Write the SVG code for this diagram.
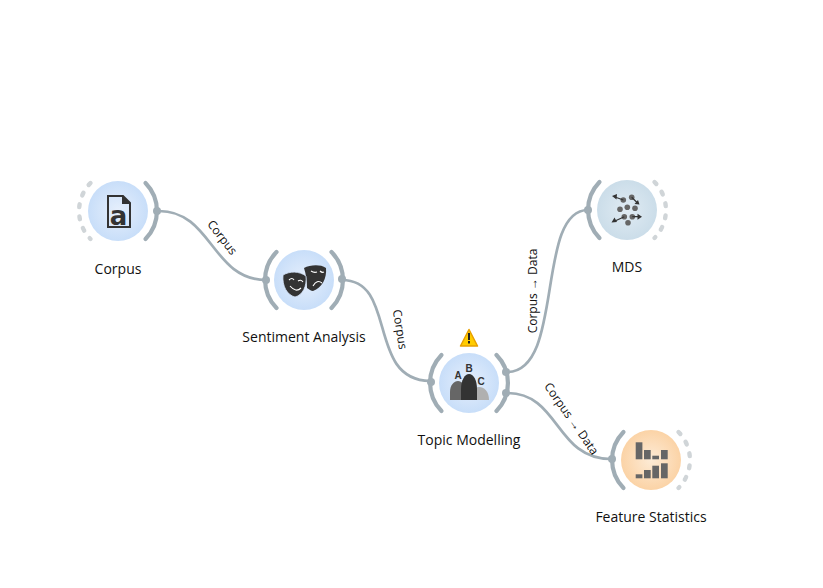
<svg xmlns="http://www.w3.org/2000/svg" width="823" height="588" viewBox="0 0 823 588">
<style>
.bg{fill:#fff}
.arc{fill:none;stroke:#a0adb5;stroke-width:4.2;stroke-linecap:round}
.dash{fill:none;stroke:#d0d5d8;stroke-width:4.4;stroke-linecap:round;stroke-dasharray:2.8 9.34}
.dot{fill:#a0adb5}
.link{fill:none;stroke:#a0adb5;stroke-width:2.7}
text{font-family:"Open Sans","Noto Sans","Liberation Sans",sans-serif;fill:#111}
.t{font-size:14px;text-anchor:middle}
.l{font-size:12px;text-anchor:middle}
.k{fill:#333}
.g{fill:#666}
.abc{font-family:"Liberation Sans",sans-serif;font-size:10px;font-weight:700;text-anchor:middle;fill:#333}
</style>
<defs>
<radialGradient id="blue"><stop offset="0" stop-color="#e6effc"/><stop offset="1" stop-color="#c8def9"/></radialGradient>
<radialGradient id="teal"><stop offset="0" stop-color="#e0ebf3"/><stop offset="1" stop-color="#cbdde9"/></radialGradient>
<radialGradient id="orange"><stop offset="0" stop-color="#fdebd6"/><stop offset="1" stop-color="#fbd3a6"/></radialGradient>
<path id="ra" class="arc" d="M27.5 -28A40 40 0 0 1 27.5 28"/>
<path id="la" class="arc" d="M-27.5 -28A40 40 0 0 0 -27.5 28"/>
<path id="rd" class="dash" d="M27.5 -28A40 40 0 0 1 27.5 28"/>
<path id="ld" class="dash" d="M-27.5 -28A40 40 0 0 0 -27.5 28"/>
</defs>
<rect class="bg" width="823" height="588"/>
<g id="connectors">
<path class="link" d="M159 211C212 211 212 280 266 280"/>
<path class="link" d="M342 280C398 280 366 380 430 381"/>
<path class="link" d="M507 372C565 372 535 210 588 210"/>
<path class="link" d="M507 393C560 393 555 459 611 459"/>
<circle class="dot" cx="157" cy="211" r="4"/>
<circle class="dot" cx="266" cy="280" r="4"/>
<circle class="dot" cx="342" cy="279" r="4"/>
<circle class="dot" cx="431" cy="382" r="4"/>
<circle class="dot" cx="506" cy="372" r="4"/>
<circle class="dot" cx="506" cy="393" r="4"/>
<circle class="dot" cx="588" cy="210" r="4"/>
<circle class="dot" cx="612" cy="459" r="4"/>
<text class="l" transform="translate(219,240) rotate(52)">Corpus</text>
<text class="l" transform="translate(396,330) rotate(81)">Corpus</text>
<text class="l" transform="translate(537,291) rotate(-90)">Corpus → Data</text>
<text class="l" transform="translate(568,421) rotate(55)">Corpus → Data</text>
</g>
<g id="corpus" transform="translate(118,211)">
<use href="#ld"/><use href="#ra"/>
<circle r="30" fill="url(#blue)"/>
<path fill="none" stroke="#333" stroke-width="2" d="M-10 -15H5L12 -8V16H-10Z"/>
<path class="k" d="M4 -16L13 -7H4Z"/>
<text y="13.500" x="0.500" text-anchor="middle" font-size="26" font-weight="700" style="font-family:'DejaVu Sans',sans-serif;fill:#333">a</text>
<text class="t" y="63">Corpus</text>
</g>
<g id="sentiment" transform="translate(304,280)">
<use href="#la"/><use href="#ra"/>
<circle r="30" fill="url(#blue)"/>
<path class="k" d="M0 -12C6 -15 16 -16 22 -12C23 -2 18 8 9 11C7 11 5 9 3 8C3 2 2 -6 0 -12Z"/>
<path class="k" stroke="#d5e5fa" stroke-width="0.8" d="M-21 -5C-14 -9 -5 -9 2 -4C3 6 -1 15 -9 17C-17 15 -22 6 -21 -5Z"/>
<path fill="none" stroke="#fff" stroke-width="1.1" d="M-15 0Q-12 -3 -10 0M-6 1Q-3 -1 -1 2M-14 6Q-8 13 -3 8M7 -9Q10 -7 13 -8M16 -9Q18 -7 20 -8M9 6Q13 -1 18 3"/>
<text class="t" y="61.500">Sentiment Analysis</text>
</g>
<g id="topic" transform="translate(469,383)">
<use href="#la"/><use href="#ra"/>
<circle r="30" fill="url(#blue)"/>
<path fill="#666" d="M-19 17V9C-19 2 -15 -2 -11 -2C-7 -2 -5 2 -4 6V17Z"/>
<path fill="#b0b0b0" d="M6 17V5C12 2 20 6 20 17Z"/>
<path class="k" d="M-8 17V6C-8 -3 -4 -9 0 -9C5 -9 8 -2 8 6V17Z"/>
<text class="abc" x="-11" y="-4">A</text>
<text class="abc" x="0" y="-11">B</text>
<text class="abc" x="12" y="2">C</text>
<path fill="#fc0" stroke="#e8a000" stroke-width="1.5" stroke-linejoin="round" d="M0 -53.500L8.500 -37H-8.500Z"/>
<path fill="#222" d="M-1 -50H1V-43H-1ZM-1 -42H1V-39.500H-1Z"/>
<text class="t" y="62">Topic Modelling</text>
</g>
<g id="mds" transform="translate(627,210)">
<use href="#la"/><use href="#rd"/>
<circle r="30" fill="url(#teal)"/>
<g class="g">
<circle cx="-3.700" cy="-10" r="2.800"/><circle cx="4.700" cy="-12.700" r="2.800"/>
<circle cx="-7" cy="-0.700" r="2.800"/><circle cx="0.300" cy="-2.700" r="2.800"/><circle cx="8" cy="-1.700" r="2.800"/>
<circle cx="-2.700" cy="6.700" r="2.800"/><circle cx="5.300" cy="6.700" r="2.800"/><circle cx="1" cy="12.700" r="2.800"/>
</g>
<path fill="none" stroke="#333" stroke-width="1.200" d="M-3.700 -10L-12 -13M4.700 -12.700L10 -7.500M-2.700 6.700L-12 11M5.300 6.700L12 6.700"/>
<path class="k" d="M-15 -14L-10 -16L-10.500 -10.500ZM12.500 -5.500L7.500 -6L11 -10ZM-15.500 12.500L-12.500 7.500L-10 12ZM15 6.700L10.500 3.700V9.700Z"/>
<text class="t" y="62">MDS</text>
</g>
<g id="feature" transform="translate(651,460)">
<use href="#la"/><use href="#rd"/>
<circle r="30" fill="url(#orange)"/>
<g class="g">
<rect x="-15.300" y="-17.700" width="6.700" height="17"/><rect x="-7" y="-10" width="6.700" height="9.300"/><rect x="1.300" y="-4.300" width="6.700" height="3.600"/><rect x="10" y="-10" width="6.700" height="9.300"/>
<rect x="-15.300" y="14.300" width="6.700" height="4"/><rect x="-7" y="10" width="6.700" height="8.300"/><rect x="1.300" y="5.700" width="6.700" height="12.600"/><rect x="10" y="3.300" width="6.700" height="15"/>
</g>
<text class="t" y="62">Feature Statistics</text>
</g>
</svg>
